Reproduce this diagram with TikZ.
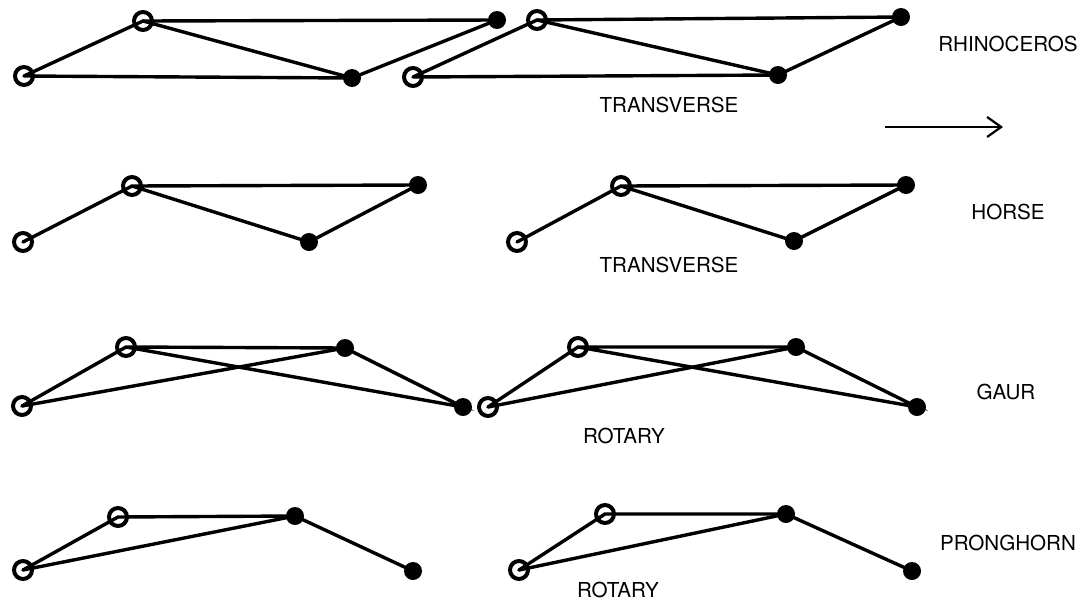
\documentclass[tikz,border=0pt]{standalone}
\usepackage{fontspec}
\setmainfont{TeX Gyre Heros}
\usetikzlibrary{arrows.meta}

\begin{document}
\begin{tikzpicture}[
    x=0.5pt, y=-0.5pt,
    open/.style   = {circle, draw, line width=2pt, inner sep=0pt, minimum size=9pt},
    dot/.style    = {circle, fill, inner sep=0pt, minimum size=9pt},
    bar/.style    = {line width=1.7pt, line cap=round},
    lbl/.style    = {font=\fontsize{10.3}{12}\selectfont, inner sep=0pt},
    arrow/.style  = {-{Straight Barb[length=7pt, width=10pt]}, line width=1.1pt}
]
\useasboundingbox (0,0) rectangle (1083,606);

% rhinoceros
\node[open] (r1a) at (24,76)  {};
\node[open] (r1b) at (143,21) {};
\node[dot]  (r1c) at (352,78) {};
\node[dot]  (r1d) at (497,20) {};
\node[open] (r2a) at (413,77) {};
\node[open] (r2b) at (537,20) {};
\node[dot]  (r2c) at (778,75) {};
\node[dot]  (r2d) at (901,17) {};
\draw[bar] (r1a.center) -- (r1b.center) -- (r1d.center) -- (r1c.center) -- (r1a.center);
\draw[bar] (r1b.center) -- (r1c.center);
\draw[bar] (r2a.center) -- (r2b.center) -- (r2d.center) -- (r2c.center) -- (r2a.center);
\draw[bar] (r2b.center) -- (r2c.center);
\node[lbl] (rhino) at (1008,44)  {RHINOCEROS};
\node[lbl] (trv1)  at (669,105)  {TRANSVERSE};
\coordinate (dirl) at (885,127);
\coordinate (dirr) at (1003,127);
\draw[arrow] (dirl) -- (dirr);

% horse
\node[open] (h1a) at (23,242)  {};
\node[open] (h1b) at (132,186) {};
\node[dot]  (h1c) at (309,242) {};
\node[dot]  (h1d) at (418,185) {};
\node[open] (h2a) at (517,242) {};
\node[open] (h2b) at (621,186) {};
\node[dot]  (h2c) at (794,241) {};
\node[dot]  (h2d) at (906,185) {};
\draw[bar] (h1a.center) -- (h1b.center) -- (h1d.center) -- (h1c.center) -- (h1b.center);
\draw[bar] (h2a.center) -- (h2b.center) -- (h2d.center) -- (h2c.center) -- (h2b.center);
\node[lbl] (horse) at (1008,212) {HORSE};
\node[lbl] (trv2)  at (669,265)  {TRANSVERSE};

% gaur
\node[open] (g1a) at (22,406)  {};
\node[open] (g1b) at (126,347) {};
\node[dot]  (g1c) at (345,348) {};
\node[dot]  (g1d) at (463,407) {};
\node[open] (g2a) at (488,407) {};
\node[open] (g2b) at (578,347) {};
\node[dot]  (g2c) at (796,347) {};
\node[dot]  (g2d) at (917,407) {};
\draw[bar] (g1a.center) -- (g1b.center) -- (g1c.center) -- (g1d.center) -- (g1b.center);
\draw[bar] (g1a.center) -- (g1c.center);
\draw[bar] (g2a.center) -- (g2b.center) -- (g2c.center) -- (g2d.center) -- (g2b.center);
\draw[bar] (g2a.center) -- (g2c.center);
\node[lbl] (gaur) at (1006,392) {GAUR};
\node[lbl] (rot1) at (624,436)  {ROTARY};

% pronghorn
\node[open] (p1a) at (23,570)  {};
\node[open] (p1b) at (118,517) {};
\node[dot]  (p1c) at (295,516) {};
\node[dot]  (p1d) at (413,571) {};
\node[open] (p2a) at (519,570) {};
\node[open] (p2b) at (605,514) {};
\node[dot]  (p2c) at (786,514) {};
\node[dot]  (p2d) at (912,571) {};
\draw[bar] (p1a.center) -- (p1b.center) -- (p1c.center) -- (p1d.center);
\draw[bar] (p1a.center) -- (p1c.center);
\draw[bar] (p2a.center) -- (p2b.center) -- (p2c.center) -- (p2d.center);
\draw[bar] (p2a.center) -- (p2c.center);
\node[lbl] (prong) at (1008,543) {PRONGHORN};
\node[lbl] (rot2)  at (618,590)  {ROTARY};
\end{tikzpicture}
\end{document}
